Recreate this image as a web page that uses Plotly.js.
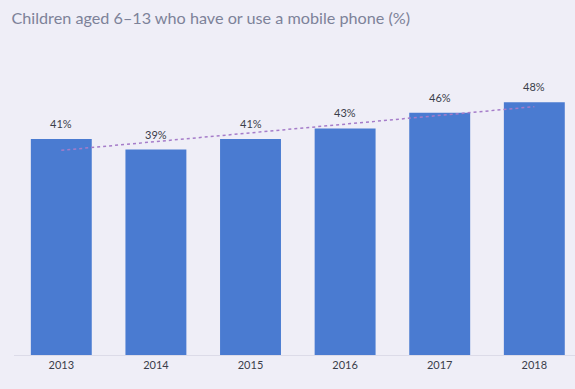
<!DOCTYPE html>
<html>
<head>
<meta charset="utf-8">
<script src="https://cdn.plot.ly/plotly-3.0.1.min.js"></script>
<style>html,body{margin:0;padding:0;background:#efeef7;}#chart{width:575px;height:389px;}</style>
</head>
<body>
<div id="chart"></div>
<script>
const years = ['2013','2014','2015','2016','2017','2018'];
const shares = [41, 39, 41, 43, 46, 48];
const labels = ['41%','39%','41%','43%','46%','48%'];

// linear trendline from the data
const n = shares.length;
const xs = shares.map((_, i) => i);
const mx = xs.reduce((a,b)=>a+b,0)/n;
const my = shares.reduce((a,b)=>a+b,0)/n;
let sxy = 0, sxx = 0;
for (let i = 0; i < n; i++) { sxy += (xs[i]-mx)*(shares[i]-my); sxx += (xs[i]-mx)**2; }
const slope = sxy/sxx, icpt = my - slope*mx;
const trendX = [0, n-1];
const trendY = trendX.map(x => icpt + slope*x);

const data = [
  {type:'bar', x: xs, y: shares, marker:{color:'#4a7bd1'}, hoverinfo:'none'},
  {type:'scatter', mode:'lines', x: trendX, y: trendY,
   line:{color:'#a57cc9', width:1.5, dash:'dot'}, hoverinfo:'none'}
];
const annotations = xs.map((x, i) => ({
  x: x, y: shares[i], text: labels[i], showarrow:false, xanchor:'center', yanchor:'bottom', yshift:7,
  font:{family:'Lato, sans-serif', size:11, color:'#3a3d4a'}
}));
const layout = {
  width:575, height:389,
  paper_bgcolor:'#efeef7', plot_bgcolor:'#efeef7',
  margin:{l:14, r:0, t:40, b:34},
  showlegend:false, bargap:0.356,
  annotations: annotations,
  title:{text:'Children aged 6–13 who have or use a mobile phone (%)', x:0.02, xanchor:'left', y:0.953, yanchor:'middle',
    font:{family:'Lato, sans-serif', size:16.2, color:'#7d8299'}},
  xaxis:{range:[-0.5,5.43], tickvals: xs, ticktext: years, showgrid:false, zeroline:false,
    showline:true, linecolor:'#dcdbe8', linewidth:1, ticks:'',
    tickfont:{family:'Lato, sans-serif', size:11, color:'#3a3d4a'}},
  yaxis:{range:[0,59.8], visible:false, showgrid:false, zeroline:false}
};
Plotly.newPlot('chart', data, layout, {displayModeBar:false, staticPlot:true});
</script>
</body>
</html>
